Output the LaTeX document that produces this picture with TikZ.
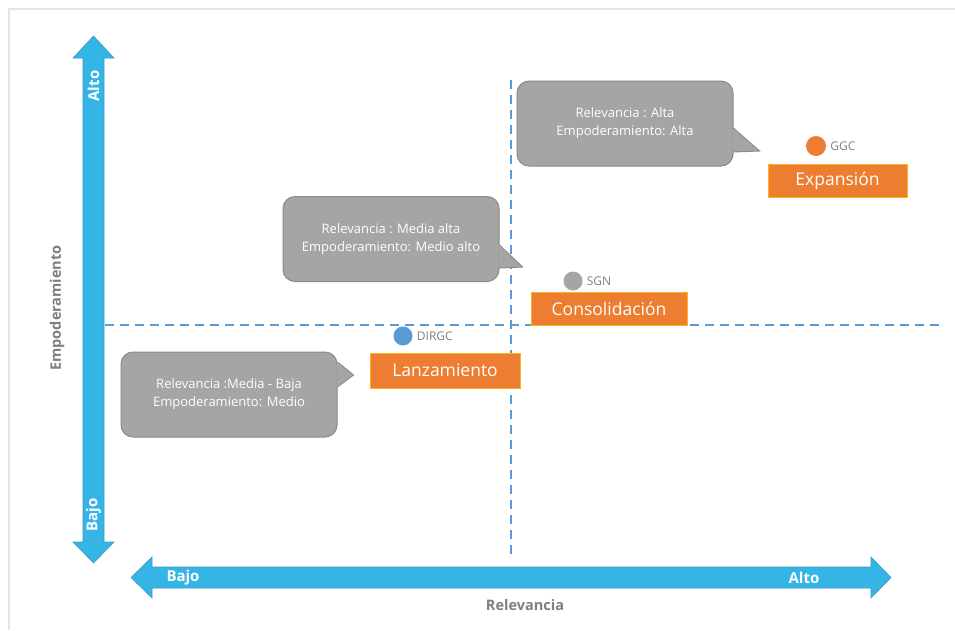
\documentclass[tikz,border=0pt]{standalone}
\usepackage{fontspec}
\setmainfont{Open Sans}
\usetikzlibrary{positioning,calc}
\definecolor{axisblue}{HTML}{35B4E6}
\definecolor{axisedge}{HTML}{3E98C8}
\definecolor{guideblue}{HTML}{5B9BD5}
\definecolor{bubblegray}{HTML}{A5A5A5}
\definecolor{bubbleedge}{HTML}{8A8A8A}
\definecolor{stageorange}{HTML}{ED7D31}
\definecolor{stageedge}{HTML}{FDB515}
\definecolor{labelgray}{HTML}{7F7F7F}
\definecolor{framegray}{HTML}{E4E4E4}
\tikzset{
  axisarrow/.style={fill=axisblue, draw=axisedge, line width=0.6pt},
  axistext/.style={text=white, font=\fontsize{15}{15}\selectfont\bfseries, inner sep=0pt},
  axistitle/.style={text=labelgray, font=\fontsize{14.5}{15}\selectfont\bfseries, inner sep=0pt},
  guide/.style={guideblue, line width=2pt, dash pattern=on 9pt off 6pt},
  bubble/.style={fill=bubblegray, draw=bubbleedge, line width=1pt, rounded corners=12pt,
    minimum width=216pt, minimum height=85pt, text=white, align=center,
    font=\fontsize{13}{18}\selectfont},
  stage/.style={fill=stageorange, draw=stageedge, line width=1pt, text=white,
    minimum height=33pt, inner sep=0pt, font=\fontsize{17.5}{18}\selectfont},
  dot/.style={circle, minimum size=19pt, inner sep=0pt},
  tag/.style={text=labelgray, font=\fontsize{12}{12}\selectfont, inner sep=0pt}
}
\begin{document}
\begin{tikzpicture}[x=1pt, y=-1pt]
\useasboundingbox (0,0) rectangle (955,630);
\fill[white] (0,0) rectangle (955,630);
%frame, top and left edge only
\draw[framegray, line width=1.5pt] (9,630) -- (9,9) -- (955,9);
%quadrant guides
\draw[guide] (105,325) -- (940,325);
\draw[guide] (511,80) -- (511,555);
%vertical axis
\draw[axisarrow]
(93.5,36) -- (114,58) -- (104,58) -- (104,542) -- (114,542) %bottom head right
-- (93.5,563) -- (73,542) -- (83,542) -- (83,58) -- (73,58) -- cycle;
\node[axistext, rotate=90] (vhigh) at (93.5,86) {Alto};
\node[axistext, rotate=90] (vlow) at (93.5,515) {Bajo};
\node[axistitle, rotate=90] (vtitle) at (57,308) {Empoderamiento};
%horizontal axis
\draw[axisarrow]
(131,577.5) -- (152,557) -- (152,567) -- (871,567) -- (871,557) %right head top
-- (891,577.5) -- (871,598) -- (871,588) -- (152,588) -- (152,598) -- cycle;
\node[axistext] (hlow) at (183,577.5) {Bajo};
\node[axistext] (hhigh) at (804,577.5) {Alto};
\node[axistitle] (htitle) at (525,605) {Relevancia};
%callouts.................
\node[bubble] (alta) at (625,123.5) {Relevancia : Alta\\Empoderamiento: Alta};
\fill[bubblegray] ($(alta.east)+(-1,4.5)$) -- ($(alta.east)+(26,27.5)$) -- ($(alta.east)+(-1,28.5)$) -- cycle;
\draw[bubbleedge, line width=1pt] ($(alta.east)+(0,4.5)$) -- ($(alta.east)+(26,27.5)$) -- ($(alta.east)+(0,28.5)$);
\node[bubble] (media) at (391,239) {Relevancia : Media alta\\Empoderamiento: Medio alto};
\fill[bubblegray] ($(media.east)+(-1,6)$) -- ($(media.east)+(23,28)$) -- ($(media.east)+(-1,29)$) -- cycle;
\draw[bubbleedge, line width=1pt] ($(media.east)+(0,6)$) -- ($(media.east)+(23,28)$) -- ($(media.east)+(0,29)$);
\node[bubble] (baja) at (229,394.5) {Relevancia :Media - Baja\\Empoderamiento: Medio};
\fill[bubblegray] ($(baja.east)+(-1,-32.5)$) -- ($(baja.east)+(16,-19.5)$) -- ($(baja.east)+(-1,-7.5)$) -- cycle;
\draw[bubbleedge, line width=1pt] ($(baja.east)+(0,-32.5)$) -- ($(baja.east)+(16,-19.5)$) -- ($(baja.east)+(0,-7.5)$);
%stages
\node[stage, minimum width=139pt] (expansion) at (837.5,180.5) {Expansión};
\node[stage, minimum width=156pt] (consolidacion) at (609,308.5) {Consolidación};
\node[stage, minimum width=150pt, minimum height=35pt] (lanzamiento) at (445,370.5) {Lanzamiento};
%units
\node[dot, fill=stageorange, minimum size=20pt] (ggc) at (816,146) {};
\node[tag, right=4pt of ggc] (ggclabel) {GGC};
\node[dot, fill=bubblegray] (sgn) at (573,281) {};
\node[tag, right=4pt of sgn] (sgnlabel) {SGN};
\node[dot, fill=guideblue] (dirgc) at (403,336) {};
\node[tag, right=4pt of dirgc] (dirgclabel) {DIRGC};
\end{tikzpicture}
\end{document}
